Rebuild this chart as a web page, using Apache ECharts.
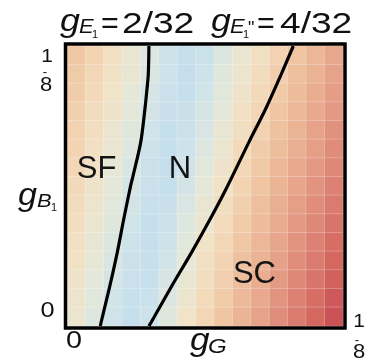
<!DOCTYPE html>
<html>
<head>
<meta charset="utf-8">
<script src="https://cdn.jsdelivr.net/npm/echarts@6/dist/echarts.min.js"></script>
<style>
  html, body { margin: 0; padding: 0; background: #fff; }
  #chart { width: 368px; height: 361px; }
</style>
</head>
<body>
<div id="chart"></div>
<script>
// Phase diagram over (g_G, g_B1), both couplings from 0 to 1/8.
const axisMin = 0;
const axisMax = 0.125;
const tickValues = [0, 0.125];
const tickLabels = ['0', '1/8'];

// Heat values per cell, top row first, left to right (0 = blue, 99 = deep red).
const cellValues = [
  [43, 36, 29, 22, 15,  8,  1,  6, 14, 22, 29, 37, 44, 52, 60],
  [41, 34, 27, 21, 14,  7,  0,  8, 16, 24, 31, 39, 47, 54, 62],
  [40, 33, 26, 19, 12,  5,  2, 10, 17, 25, 33, 41, 49, 57, 65],
  [38, 31, 25, 18, 11,  4,  4, 12, 19, 28, 35, 44, 51, 59, 67],
  [37, 30, 23, 16,  9,  2,  5, 13, 21, 30, 37, 46, 54, 62, 70],
  [36, 28, 22, 15,  8,  1,  7, 15, 23, 32, 40, 48, 56, 64, 73],
  [34, 27, 20, 13,  6,  0,  9, 17, 25, 34, 42, 51, 59, 67, 75],
  [33, 25, 19, 12,  5,  2, 11, 19, 27, 36, 44, 53, 61, 69, 78],
  [31, 24, 17, 11,  3,  4, 13, 21, 30, 38, 47, 56, 64, 72, 81],
  [30, 23, 16,  9,  2,  6, 15, 23, 32, 41, 49, 58, 67, 75, 84],
  [28, 21, 14,  8,  1,  8, 17, 26, 34, 43, 52, 61, 69, 78, 87],
  [27, 20, 13,  6,  1, 10, 19, 28, 36, 46, 54, 63, 72, 81, 90],
  [25, 18, 12,  5,  3, 12, 21, 30, 39, 48, 57, 66, 75, 84, 93],
  [24, 17, 10,  3,  5, 14, 23, 32, 41, 50, 59, 69, 78, 87, 96],
  [23, 15,  9,  2,  7, 16, 26, 35, 44, 53, 62, 72, 81, 90, 99]
];

// Phase boundaries as [g_G, g_B1] points.
const sfBoundary = [
  [0.0151, 0.0000], [0.0155, 0.0018], [0.0195, 0.0183], [0.0228, 0.0330],
  [0.0258, 0.0482], [0.0289, 0.0630], [0.0300, 0.0674], [0.0334, 0.0821],
  [0.0353, 0.0969], [0.0361, 0.1045], [0.0368, 0.1121], [0.0371, 0.1250]
];
const scBoundary = [
  [0.0371, 0.0000], [0.0382, 0.0018], [0.0477, 0.0183], [0.0565, 0.0330],
  [0.0651, 0.0482], [0.0718, 0.0607], [0.0824, 0.0821], [0.0900, 0.0970],
  [0.0968, 0.1119], [0.1025, 0.1250]
];

// Region names and where they sit.
const regionNames = ['SF', 'N', 'SC'];
const regionSpots = [[0.0134, 0.0699], [0.0512, 0.0701], [0.0849, 0.0232]];

const heatColors = ['#c4deed', '#cfe3e9', '#e4e8da', '#f1e2c6', '#f2d4b3', '#efc3a0',
                    '#eab394', '#e6a189', '#e08e7b', '#da7b6f', '#d4685f', '#cb5257'];

const FONT = '"Liberation Sans", Arial, Helvetica, sans-serif';
const INK = '#111';

const nCols = cellValues[0].length;
const nRows = cellValues.length;
const colCats = Array.from({ length: nCols }, (_, i) => String(i));
const rowCats = Array.from({ length: nRows }, (_, i) => String(i));
const heatData = [];
cellValues.forEach((row, r) => {
  row.forEach((v, c) => heatData.push([c, nRows - 1 - r, v]));
});

const chart = echarts.init(document.getElementById('chart'), null, { renderer: 'canvas' });

chart.setOption({
  animation: false,
  backgroundColor: '#fff',
  grid: { left: 67, top: 46, width: 276, height: 280, containLabel: false },
  xAxis: [
    { type: 'category', data: colCats, show: false, gridIndex: 0 },
    { type: 'value', min: axisMin, max: axisMax, show: false, gridIndex: 0 }
  ],
  yAxis: [
    { type: 'category', data: rowCats, show: false, gridIndex: 0 },
    { type: 'value', min: axisMin, max: axisMax, show: false, gridIndex: 0 }
  ],
  visualMap: {
    show: false,
    type: 'continuous',
    seriesIndex: 0,
    dimension: 2,
    min: 0,
    max: 99,
    inRange: { color: heatColors }
  },
  series: [
    {
      type: 'heatmap',
      xAxisIndex: 0,
      yAxisIndex: 0,
      data: heatData,
      itemStyle: { borderColor: 'rgba(255,255,255,0.22)', borderWidth: 1 },
      emphasis: { disabled: true }
    },
    {
      type: 'line',
      xAxisIndex: 1,
      yAxisIndex: 1,
      data: sfBoundary,
      symbol: 'none',
      smooth: 0.3,
      lineStyle: { color: '#000', width: 3.2 },
      z: 5
    },
    {
      type: 'line',
      xAxisIndex: 1,
      yAxisIndex: 1,
      data: scBoundary,
      symbol: 'none',
      smooth: 0.3,
      lineStyle: { color: '#000', width: 3.2 },
      z: 5
    },
    {
      type: 'scatter',
      xAxisIndex: 1,
      yAxisIndex: 1,
      symbolSize: 1,
      itemStyle: { color: 'rgba(0,0,0,0)', opacity: 1 },
      data: regionNames.map((n, i) => ({ name: n, value: regionSpots[i] })),
      label: {
        show: true,
        position: 'inside',
        formatter: '{b}',
        fontSize: 31,
        fontFamily: FONT,
        color: '#141414',
        opacity: 1
      },
      emphasis: { disabled: true },
      z: 6
    }
  ]
});

// Text helper: y is the em-middle of the line.
function txt(str, x, y, size, o) {
  o = o || {};
  return {
    type: 'text',
    x: x, y: y,
    scaleX: o.sx || 1,
    z: 200,
    silent: true,
    style: {
      text: str,
      fontSize: size,
      fontFamily: FONT,
      fontStyle: o.italic ? 'italic' : 'normal',
      fill: INK,
      align: o.align || 'left',
      verticalAlign: 'middle'
    }
  };
}

const els = [];

// Frame
els.push({
  type: 'rect', z: 150, silent: true,
  shape: { x: 65.5, y: 44, width: 279.5, height: 284 },
  style: { fill: 'none', stroke: '#000', lineWidth: 3.5 }
});

// Heading: g_{E1} = 2/32   g_{E1''} = 4/32
els.push(txt('g', 60, 22.5, 32, { italic: true, sx: 1.12 }));
els.push(txt('E', 79, 27, 20, { italic: true, sx: 1.1 }));
els.push(txt('1', 92, 34.5, 11));
els.push(txt('=', 101, 24.5, 29, { sx: 1.05 }));
els.push(txt('2/32', 122, 24.5, 29, { sx: 1.28 }));

els.push(txt('g', 211, 22.5, 32, { italic: true, sx: 1.12 }));
els.push(txt('E', 230, 27, 20, { italic: true, sx: 1.1 }));
els.push(txt('1', 243, 34.5, 11));
els.push(txt('"', 248, 29, 18));
els.push(txt('=', 257, 24.5, 29, { sx: 1.05 }));
els.push(txt('4/32', 280, 24.5, 29, { sx: 1.28 }));

// Axis names
els.push(txt('g', 18, 196, 31, { italic: true, sx: 1.1 }));
els.push(txt('B', 37, 202, 19, { italic: true, sx: 1.15 }));
els.push(txt('1', 51, 208, 11));

els.push(txt('g', 190, 341.5, 32, { italic: true, sx: 1.1 }));
els.push(txt('G', 208, 347.5, 20, { italic: true, sx: 1.2 }));

// Tick labels, placed from the value axes
tickValues.forEach((v, i) => {
  const label = tickLabels[i];
  const px = chart.convertToPixel({ xAxisIndex: 1 }, v);
  const py = chart.convertToPixel({ yAxisIndex: 1 }, v);
  const parts = label.split('/');
  if (parts.length === 1) {
    els.push(txt(label, px - 1, 341.5, 24, { sx: 1.2 }));
    els.push(txt(label, 47.5, py - 15, 22, { sx: 1.15, align: 'center' }));
  } else {
    const bx = px + 16;
    els.push(txt(parts[0], bx, 322, 19, { align: 'center', sx: 1.1 }));
    els.push(txt('-', bx - 2, 340, 13, { align: 'center' }));
    els.push(txt(parts[1], bx, 352.5, 20, { align: 'center', sx: 1.1 }));
    els.push(txt(parts[0], 47, py + 10.5, 19, { align: 'center', sx: 1.1 }));
    els.push(txt('-', 45, py + 26, 13, { align: 'center' }));
    els.push(txt(parts[1], 46, py + 39.5, 20, { align: 'center', sx: 1.1 }));
  }
});

chart.setOption({ graphic: { elements: els } });
</script>
</body>
</html>
